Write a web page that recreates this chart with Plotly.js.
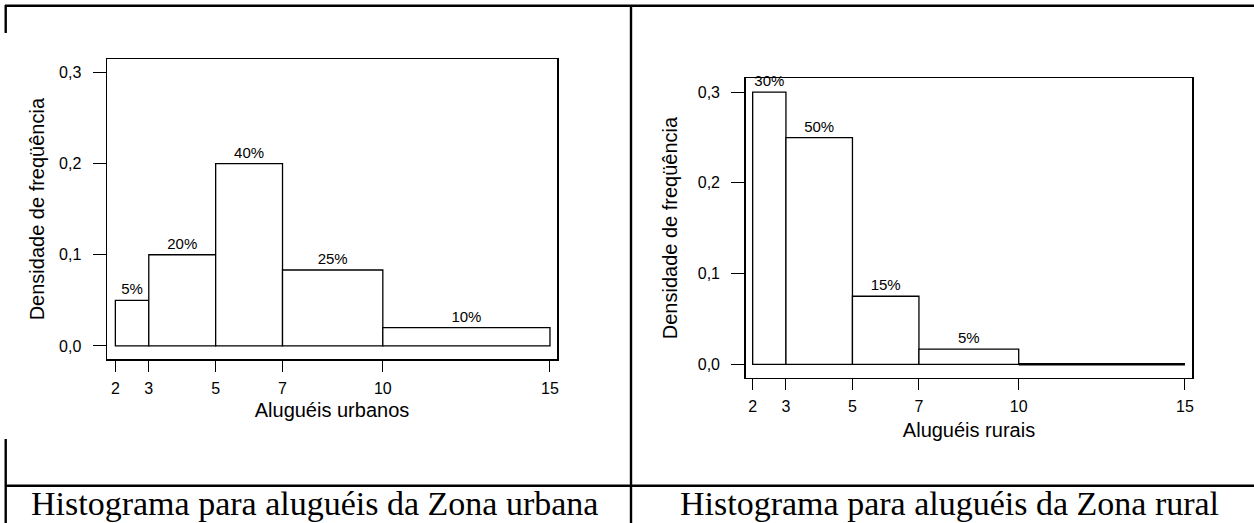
<!DOCTYPE html>
<html>
<head>
<meta charset="utf-8">
<script src="https://cdn.plot.ly/plotly-3.0.1.min.js"></script>
<style>html,body{margin:0;padding:0;background:#fff;}#chart{width:1254px;height:523px;}</style>
</head>
<body>
<div id="chart"></div>
<script>
// ---- data ----
const binEdges = [2, 3, 5, 7, 10, 15];
const xTickVals = [2, 3, 5, 7, 10, 15];
const yTickVals = [0, 0.1, 0.2, 0.3];
const urbanDensity = [0.05, 0.10, 0.20, 0.0833, 0.02];
const urbanLabels = ['5%', '20%', '40%', '25%', '10%'];
const ruralDensity = [0.30, 0.25, 0.075, 0.0167, 0.0];
const ruralLabels = ['30%', '50%', '15%', '5%', ''];
const urbanXTitle = 'Aluguéis urbanos';
const ruralXTitle = 'Aluguéis rurais';
const yTitle = 'Densidade de freqüência';
const urbanCaption = 'Histograma para aluguéis da Zona urbana';
const ruralCaption = 'Histograma para aluguéis da Zona rural';

// ---- helpers ----
const W = 1254, H = 523;
const fx = p => p / W;
const fy = p => 1 - p / H;
const mids = binEdges.slice(0, -1).map((e, i) => (e + binEdges[i + 1]) / 2);
const widths = binEdges.slice(0, -1).map((e, i) => binEdges[i + 1] - e);
const SANS = 'Arial, Liberation Sans, sans-serif';
const SERIF = 'Times New Roman, Liberation Serif, serif';

function barTrace(dens, labels, xa, ya) {
  return {
    type: 'bar', x: mids, y: dens, width: widths,
    xaxis: xa, yaxis: ya,
    marker: {color: 'white', line: {color: 'black', width: dens.map(d => d === 0 ? 2.6 : 1.3)}},
    text: labels, textposition: 'outside', constraintext: 'none',
    textfont: {family: SANS, size: 15, color: 'black'},
    cliponaxis: false, hoverinfo: 'none', showlegend: false
  };
}

function xAxis(dom, range, title, anchor, standoff) {
  return {
    domain: dom, range: range, anchor: anchor,
    tickvals: xTickVals, ticktext: xTickVals.map(String),
    ticks: 'outside', ticklen: 11, tickwidth: 1, tickcolor: 'black',
    showline: true, mirror: true, linecolor: 'black', linewidth: 1.5,
    showgrid: false, zeroline: false, automargin: false,
    ticklabelstandoff: 3,
    tickfont: {family: SANS, size: 16, color: 'black'},
    title: {text: title, font: {family: SANS, size: 20, color: 'black'}, standoff: standoff}
  };
}
function yAxis(dom, range, anchor, standoff) {
  return {
    domain: dom, range: range, anchor: anchor,
    tickvals: yTickVals, tickformat: '.1f',
    ticks: 'outside', ticklen: 13, tickwidth: 1, tickcolor: 'black',
    showline: true, mirror: true, linecolor: 'black', linewidth: 1.5,
    showgrid: false, zeroline: false, automargin: false,
    ticklabelstandoff: 8,
    tickfont: {family: SANS, size: 16, color: 'black'},
    title: {text: yTitle, font: {family: SANS, size: 20, color: 'black'}, standoff: standoff}
  };
}

const data = [
  barTrace(urbanDensity, urbanLabels, 'x', 'y'),
  barTrace(ruralDensity, ruralLabels, 'x2', 'y2')
];

const lineStyle = {color: 'black', width: 2.4};
const seg = (x0, y0, x1, y1) => ({type: 'line', xref: 'paper', yref: 'paper',
  x0: fx(x0), y0: fy(y0), x1: fx(x1), y1: fy(y1), line: lineStyle});

const layout = {
  width: W, height: H,
  margin: {l: 0, r: 0, t: 0, b: 0, pad: 0},
  paper_bgcolor: 'white', plot_bgcolor: 'white',
  separators: ',.',
  bargap: 0,
  xaxis: xAxis([fx(107), fx(557)], [1.75, 15.21], urbanXTitle, 'y', 7),
  yaxis: yAxis([fy(359), fy(59.3)], [-0.0143, 0.3143], 'x', 9),
  xaxis2: xAxis([fx(745.7), fx(1192.3)], [1.79, 15.22], ruralXTitle, 'y2', 8),
  yaxis2: yAxis([fy(377.7), fy(78.3)], [-0.0148, 0.3153], 'x2', 15),
  shapes: [
    seg(5, 5.8, 1254, 5.8),
    seg(5.7, 5, 5.7, 33),
    seg(5.7, 439, 5.7, 523),
    seg(631, 5, 631, 523),
    seg(5, 485.7, 1254, 485.7)
  ],
  annotations: [
    {text: urbanCaption, xref: 'paper', yref: 'paper', x: fx(314.5), y: fy(503),
     xanchor: 'center', yanchor: 'middle', showarrow: false,
     font: {family: SERIF, size: 34, color: 'black'}},
    {text: ruralCaption, xref: 'paper', yref: 'paper', x: fx(949), y: fy(503),
     xanchor: 'center', yanchor: 'middle', showarrow: false,
     font: {family: SERIF, size: 34, color: 'black'}}
  ]
};

Plotly.newPlot('chart', data, layout, {staticPlot: true, displayModeBar: false});
</script>
</body>
</html>
